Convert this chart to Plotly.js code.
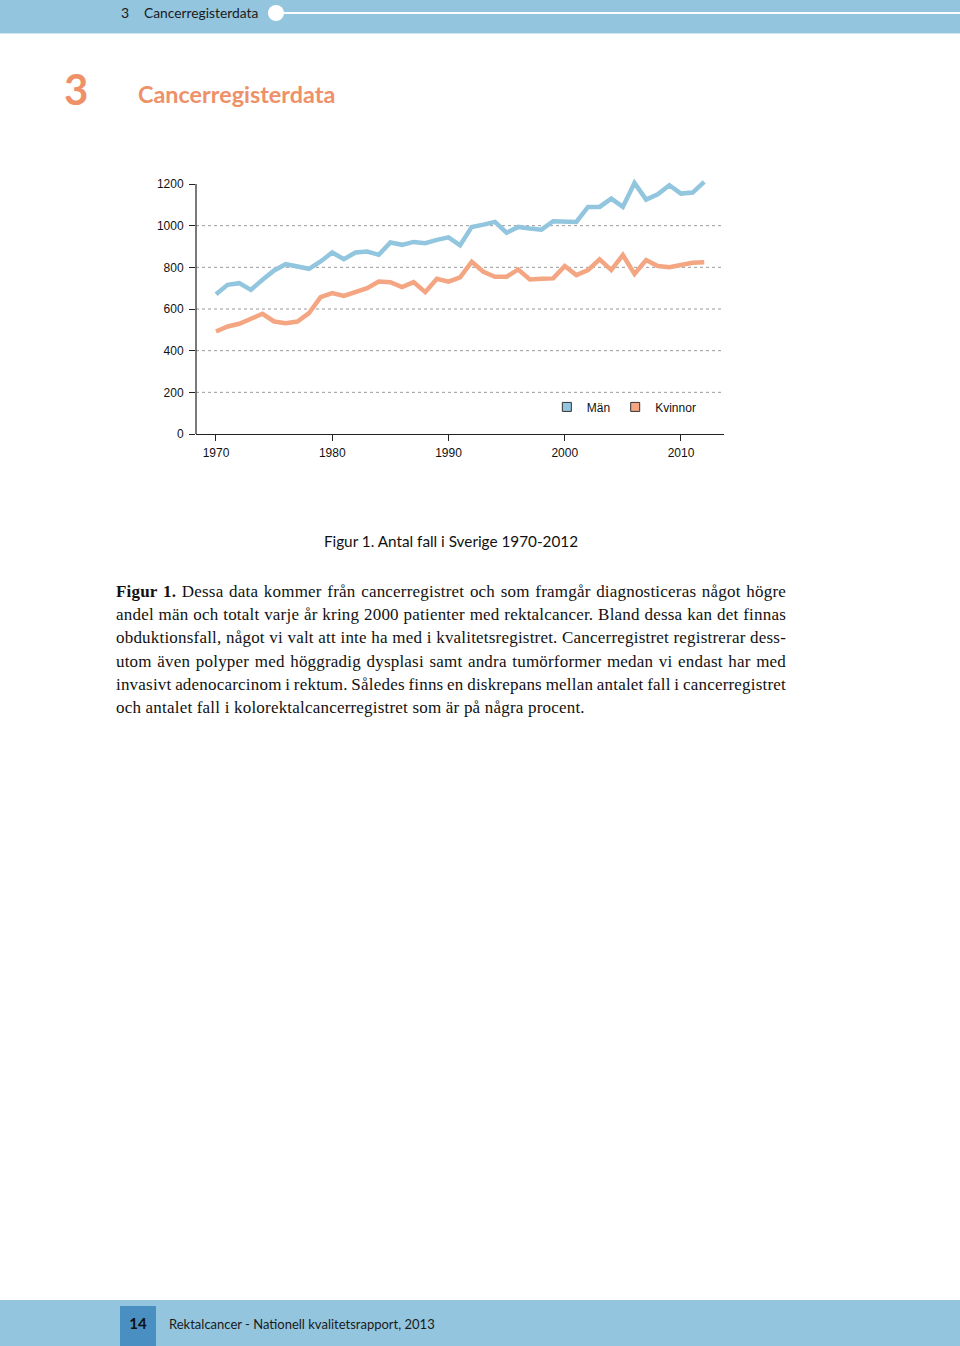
<!DOCTYPE html>
<html>
<head>
<meta charset="utf-8">
<script src="https://cdn.plot.ly/plotly-3.0.1.min.js"></script>
<style>
  html, body { margin:0; padding:0; background:#fff; }
  body { width:960px; height:1346px; position:relative; overflow:hidden; font-family: Lato, "DejaVu Sans", sans-serif; }
  .abs { position:absolute; }
  #hdr { left:0; top:0; width:960px; height:34px; background:#93c5de; border-bottom:1px solid #cfe6f1; box-sizing:border-box; }
  #hdrline { left:276px; top:12px; width:684px; height:2px; background:#fff; }
  #hdrdot { left:268px; top:5px; width:16px; height:16px; border-radius:50%; background:#fff; }
  #hdrnum { left:121px; top:4px; font-size:14px; color:#1a1a1a; }
  #hdrtxt { left:144px; top:4px; font-size:13.8px; color:#1a1a1a; }
  #bignum { left:64px; top:64px; font-size:42px; font-weight:700; color:#ee9068; }
  #bigtitle { left:138px; top:80px; font-size:23.4px; font-weight:700; color:#ee9068; }
  #plot { left:0; top:150px; width:960px; height:340px; }
  #caption { left:0; width:902px; top:532px; text-align:center; font-size:15.3px; color:#111; }
  #para { left:116px; top:580px; width:670px; font-family:"Liberation Serif", "DejaVu Serif", serif; font-size:17px; letter-spacing:0.2px; word-spacing:-1.5px; color:#111; }
  #para div { height:23.2px; line-height:23.2px; text-align:justify; text-align-last:justify; white-space:nowrap; }
  #para div.last { text-align-last:left; word-spacing:0; }
  #ftr { left:0; top:1300px; width:960px; height:46px; background:#93c5de; }
  #ftrbox { left:120px; top:1306px; width:36px; height:40px; background:#4a8fc2; }
  #ftrnum { left:120px; top:1314px; width:36px; text-align:center; font-size:15px; font-weight:700; color:#111; }
  #ftrtxt { left:169px; top:1316px; font-size:13px; color:#1a1a1a; }
</style>
</head>
<body>
<div id="hdr" class="abs"></div>
<div id="hdrline" class="abs"></div>
<div id="hdrdot" class="abs"></div>
<div id="hdrnum" class="abs">3</div>
<div id="hdrtxt" class="abs">Cancerregisterdata</div>
<div id="bignum" class="abs">3</div>
<div id="bigtitle" class="abs">Cancerregisterdata</div>
<div id="plot" class="abs"></div>
<div id="caption" class="abs">Figur 1. Antal fall i Sverige 1970-2012</div>
<div id="para" class="abs">
  <div><b>Figur 1.</b> Dessa data kommer från cancerregistret och som framgår diagnosticeras något högre</div>
  <div>andel män och totalt varje år kring 2000 patienter med rektalcancer. Bland dessa kan det finnas</div>
  <div>obduktionsfall, något vi valt att inte ha med i kvalitetsregistret. Cancerregistret registrerar dess-</div>
  <div>utom även polyper med höggradig dysplasi samt andra tumörformer medan vi endast har med</div>
  <div>invasivt adenocarcinom i rektum. Således finns en diskrepans mellan antalet fall i cancerregistret</div>
  <div class="last">och antalet fall i kolorektalcancerregistret som är på några procent.</div>
</div>
<div id="ftr" class="abs"></div>
<div id="ftrbox" class="abs"></div>
<div id="ftrnum" class="abs">14</div>
<div id="ftrtxt" class="abs">Rektalcancer - Nationell kvalitetsrapport, 2013</div>

<script>
const years = [1970,1971,1972,1973,1974,1975,1976,1977,1978,1979,
               1980,1981,1982,1983,1984,1985,1986,1987,1988,1989,
               1990,1991,1992,1993,1994,1995,1996,1997,1998,1999,
               2000,2001,2002,2003,2004,2005,2006,2007,2008,2009,
               2010,2011,2012];
const man = [671,716,724,692,740,785,815,804,793,828,
             871,839,871,876,860,919,908,922,916,932,
             944,906,994,1005,1018,966,994,986,981,1021,
             1018,1018,1090,1090,1130,1090,1205,1125,1151,1194,
             1154,1159,1210];
const kvinnor = [492,516,529,556,577,540,532,540,580,657,
                 676,663,684,700,732,729,705,729,681,745,
                 731,752,827,779,755,755,790,742,745,747,
                 806,763,787,838,787,859,768,835,806,800,
                 811,822,825];
const seriesNames = ["Män", "Kvinnor"];
const xTicks = [1970,1980,1990,2000,2010];
const yTicks = [0,200,400,600,800,1000,1200];
const gridVals = [200,400,600,800,1000];

const blue = "#92c5de", orange = "#f4a582";

const traces = [
  {x: years, y: man, type:"scatter", mode:"lines", line:{color:blue, width:4.5, shape:"linear"}, showlegend:false, hoverinfo:"skip"},
  {x: years, y: kvinnor, type:"scatter", mode:"lines", line:{color:orange, width:4.5}, showlegend:false, hoverinfo:"skip"},
  {x:[null], y:[null], type:"scatter", mode:"markers", name:seriesNames[0], marker:{symbol:"square", size:9, color:blue, line:{color:"#333", width:1}}},
  {x:[null], y:[null], type:"scatter", mode:"markers", name:seriesNames[1], marker:{symbol:"square", size:9, color:orange, line:{color:"#333", width:1}}}
];

const shapes = gridVals.map(v => ({type:"line", xref:"paper", x0:0, x1:1, yref:"y", y0:v, y1:v, layer:"below",
  line:{color:"#9a9a9a", width:1, dash:"dot"}}));
shapes.push({type:"line", xref:"paper", x0:0, x1:0, yref:"y", y0:0, y1:1200, line:{color:"#222", width:1.2}});

const layout = {
  width:960, height:340,
  margin:{l:196, r:236, t:26, b:56, pad:0},
  paper_bgcolor:"rgba(0,0,0,0)", plot_bgcolor:"rgba(0,0,0,0)",
  font:{family:"Liberation Sans, Arial, sans-serif", size:12, color:"#111"},
  xaxis:{range:[1968.28, 2013.70], tickvals:xTicks, ticks:"outside", ticklen:6, tickcolor:"#222",
         showline:true, linecolor:"#222", linewidth:1.2, showgrid:false, zeroline:false, ticklabelstandoff:1},
  yaxis:{range:[0, 1238.4], tickvals:yTicks, ticks:"outside", ticklen:6, tickcolor:"#222",
         showline:false, showgrid:false, zeroline:false, ticklabelstandoff:3},
  shapes: shapes,
  showlegend:true,
  legend:{orientation:"h", x:0.6645, xanchor:"left", y:0.105, yanchor:"middle", bgcolor:"rgba(0,0,0,0)",
          font:{size:12, color:"#111"}, itemclick:false, itemdoubleclick:false}
};

Plotly.newPlot("plot", traces, layout, {staticPlot:true, displayModeBar:false});
</script>
</body>
</html>
